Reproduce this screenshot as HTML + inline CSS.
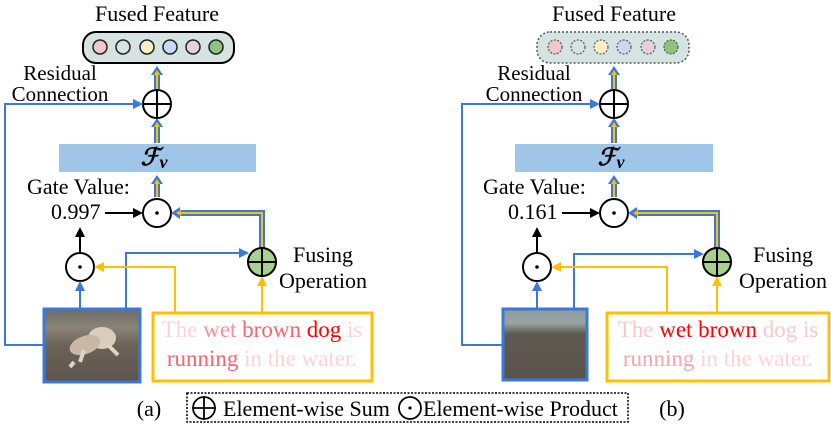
<!DOCTYPE html>
<html><head><meta charset="utf-8"><style>
html,body{margin:0;padding:0;background:#fff;width:831px;height:424px;overflow:hidden}
text{font-family:"Liberation Serif",serif}
</style></head><body>
<svg width="831" height="424" viewBox="0 0 831 424" xmlns="http://www.w3.org/2000/svg" font-family="Liberation Serif, serif">
<defs>
<linearGradient id="sand" x1="0" y1="0" x2="0" y2="1">
<stop offset="0" stop-color="#6d6a62"/><stop offset="0.25" stop-color="#8a8478"/><stop offset="0.5" stop-color="#6b6258"/><stop offset="1" stop-color="#5e564d"/>
</linearGradient>
<linearGradient id="sand2" x1="0" y1="0" x2="0" y2="1">
<stop offset="0" stop-color="#8c9a9c"/><stop offset="0.2" stop-color="#9aa3a2"/><stop offset="0.35" stop-color="#5e5a52"/><stop offset="1" stop-color="#5a544b"/>
</linearGradient>
</defs>

<!-- ========== PANEL A ========== -->
<g>
<text x="157" y="21" font-size="22" text-anchor="middle">Fused Feature</text>
<rect x="83" y="32" width="151" height="31" rx="13" fill="#d5e3e3" stroke="#000" stroke-width="2"/>
<g stroke="#222" stroke-width="1.5">
<circle cx="100" cy="47" r="7" fill="#f0c8c8"/>
<circle cx="123" cy="47" r="7" fill="#d5e3e3"/>
<circle cx="147" cy="47" r="7" fill="#fcefc8"/>
<circle cx="170" cy="47" r="7" fill="#c9d9f5"/>
<circle cx="193" cy="47" r="7" fill="#e8cfdd"/>
<circle cx="216" cy="47" r="7" fill="#8fc27f"/>
</g>
<line x1="157" y1="89" x2="157" y2="74" stroke="#3c78d8" stroke-width="6"/>
<polygon points="151,75 163,75 157,66" fill="#3c78d8"/>
<line x1="157" y1="89" x2="157" y2="75" stroke="#ffc000" stroke-width="2"/>
<polygon points="154,75 160,75 157,70" fill="#ffc000"/>
<line x1="157" y1="143" x2="157" y2="126" stroke="#3c78d8" stroke-width="6"/>
<polygon points="151,127 163,127 157,118" fill="#3c78d8"/>
<line x1="157" y1="143" x2="157" y2="127" stroke="#ffc000" stroke-width="2"/>
<polygon points="154,127 160,127 157,122" fill="#ffc000"/>
<line x1="157" y1="197" x2="157" y2="183" stroke="#3c78d8" stroke-width="6"/>
<polygon points="151,184 163,184 157,175" fill="#3c78d8"/>
<line x1="157" y1="197" x2="157" y2="184" stroke="#ffc000" stroke-width="2"/>
<polygon points="154,184 160,184 157,179" fill="#ffc000"/>
<circle cx="157" cy="104" r="14" fill="#fff" stroke="#000" stroke-width="2"/>
<line x1="143" y1="104" x2="171" y2="104" stroke="#000" stroke-width="2"/>
<line x1="157" y1="90" x2="157" y2="118" stroke="#000" stroke-width="2"/>
<text x="60" y="80" font-size="21" text-anchor="middle">Residual</text>
<text x="60" y="101" font-size="21" text-anchor="middle">Connection</text>
<polyline points="43,345 5,345 5,104 134,104" fill="none" stroke="#3c78d8" stroke-width="2"/>
<polygon points="133,99 143,104 133,109" fill="#3c78d8"/>
<rect x="59" y="144" width="197" height="28" fill="#9fc5e8"/>
<text x="154" y="165" font-size="24" font-weight="bold" font-style="italic" text-anchor="middle">ℱ<tspan font-size="18" dy="3">v</tspan></text>
<text x="27" y="194" font-size="22">Gate Value:</text>
<text x="51" y="219" font-size="22">0.997</text>
<line x1="105" y1="213" x2="134" y2="213" stroke="#000" stroke-width="2"/>
<polygon points="133,208 143,213 133,218" fill="#000"/>
<circle cx="157" cy="213" r="14" fill="#fff" stroke="#000" stroke-width="2"/>
<circle cx="157" cy="213" r="1.8" fill="#000"/>
<polyline points="262,248 262,213 178,213" fill="none" stroke="#3c78d8" stroke-width="6"/>
<polygon points="180,207 180,219 171,213" fill="#3c78d8"/>
<polyline points="262,248 262,213 180,213" fill="none" stroke="#ffc000" stroke-width="2"/>
<polygon points="181,210 181,216 176,213" fill="#ffc000"/>
<line x1="80" y1="253" x2="80" y2="236" stroke="#000" stroke-width="2"/>
<polygon points="75,237 85,237 80,227" fill="#000"/>
<circle cx="80" cy="267" r="14" fill="#fff" stroke="#000" stroke-width="2"/>
<circle cx="80" cy="267" r="1.8" fill="#000"/>
<line x1="80" y1="308" x2="80" y2="290" stroke="#3c78d8" stroke-width="2"/>
<polygon points="75,291 85,291 80,281" fill="#3c78d8"/>
<polyline points="126,308 126,253 240,253" fill="none" stroke="#3c78d8" stroke-width="2"/>
<polygon points="239,248 249,253 239,258" fill="#3c78d8"/>
<polyline points="175,313 175,267 103,267" fill="none" stroke="#ffc000" stroke-width="2"/>
<polygon points="104,262 94,267 104,272" fill="#ffc000"/>
<line x1="262" y1="313" x2="262" y2="285" stroke="#ffc000" stroke-width="2"/>
<polygon points="257,286 267,286 262,276" fill="#ffc000"/>
<circle cx="262" cy="262" r="14" fill="#a9d08e" stroke="#000" stroke-width="2"/>
<line x1="248" y1="262" x2="276" y2="262" stroke="#000" stroke-width="2"/>
<line x1="262" y1="248" x2="262" y2="276" stroke="#000" stroke-width="2"/>
<text x="323" y="262" font-size="22" text-anchor="middle">Fusing</text>
<text x="323" y="288" font-size="22" text-anchor="middle">Operation</text>
<rect x="44" y="309" width="96" height="73" fill="url(#sand)"/>
<ellipse cx="102" cy="338" rx="14" ry="11" fill="#d9cdbf"/>
<ellipse cx="85" cy="345" rx="16" ry="9" fill="#c9b8a5" transform="rotate(-20 85 345)"/>
<path d="M74 362 L70 367 M84 350 L80 362 M108 345 L118 355" stroke="#e0d4c4" stroke-width="4"/>
<rect x="44" y="309" width="96" height="73" fill="none" stroke="#3c78d8" stroke-width="3"/>
<rect x="153" y="313" width="219" height="68" fill="#fff" stroke="#ffc000" stroke-width="3"/>
<text x="262" y="337" font-size="23" text-anchor="middle"><tspan fill="#fcd3d6">The </tspan><tspan fill="#f7919a">wet </tspan><tspan fill="#f4646f">brown </tspan><tspan fill="#ff0000">dog </tspan><tspan fill="#fcd3d6">is</tspan></text>
<text x="262" y="366" font-size="23" text-anchor="middle"><tspan fill="#f4646f">running </tspan><tspan fill="#fcd3d6">in the water.</tspan></text>
</g>

<!-- ========== PANEL B ========== -->
<g transform="translate(457,0)">
<text x="157" y="21" font-size="22" text-anchor="middle">Fused Feature</text>
<rect x="80" y="32" width="152" height="31" rx="13" fill="#d5e3e3" stroke="#555" stroke-width="1.5" stroke-dasharray="2,2"/>
<g stroke="#555" stroke-width="1.2" stroke-dasharray="2,1.5">
<circle cx="98" cy="47" r="7" fill="#f0c8c8"/>
<circle cx="121" cy="47" r="7" fill="#d5e3e3"/>
<circle cx="144" cy="47" r="7" fill="#fcefc8"/>
<circle cx="167" cy="47" r="7" fill="#c9d9f5"/>
<circle cx="191" cy="47" r="7" fill="#e8cfdd"/>
<circle cx="214" cy="47" r="7" fill="#8fc27f"/>
</g>
<line x1="157" y1="89" x2="157" y2="74" stroke="#3c78d8" stroke-width="6"/>
<polygon points="151,75 163,75 157,66" fill="#3c78d8"/>
<line x1="157" y1="89" x2="157" y2="75" stroke="#ffc000" stroke-width="2"/>
<polygon points="154,75 160,75 157,70" fill="#ffc000"/>
<line x1="157" y1="143" x2="157" y2="126" stroke="#3c78d8" stroke-width="6"/>
<polygon points="151,127 163,127 157,118" fill="#3c78d8"/>
<line x1="157" y1="143" x2="157" y2="127" stroke="#ffc000" stroke-width="2"/>
<polygon points="154,127 160,127 157,122" fill="#ffc000"/>
<line x1="157" y1="197" x2="157" y2="183" stroke="#3c78d8" stroke-width="6"/>
<polygon points="151,184 163,184 157,175" fill="#3c78d8"/>
<line x1="157" y1="197" x2="157" y2="184" stroke="#ffc000" stroke-width="2"/>
<polygon points="154,184 160,184 157,179" fill="#ffc000"/>
<circle cx="157" cy="104" r="14" fill="#fff" stroke="#000" stroke-width="2"/>
<line x1="143" y1="104" x2="171" y2="104" stroke="#000" stroke-width="2"/>
<line x1="157" y1="90" x2="157" y2="118" stroke="#000" stroke-width="2"/>
<text x="77" y="80" font-size="21" text-anchor="middle">Residual</text>
<text x="77" y="101" font-size="21" text-anchor="middle">Connection</text>
<polyline points="45,345 5,345 5,104 134,104" fill="none" stroke="#3c78d8" stroke-width="2"/>
<polygon points="133,99 143,104 133,109" fill="#3c78d8"/>
<rect x="58" y="144" width="198" height="28" fill="#9fc5e8"/>
<text x="154" y="165" font-size="24" font-weight="bold" font-style="italic" text-anchor="middle">ℱ<tspan font-size="18" dy="3">v</tspan></text>
<text x="26" y="194" font-size="22">Gate Value:</text>
<text x="51" y="219" font-size="22">0.161</text>
<line x1="105" y1="213" x2="134" y2="213" stroke="#000" stroke-width="2"/>
<polygon points="133,208 143,213 133,218" fill="#000"/>
<circle cx="157" cy="213" r="14" fill="#fff" stroke="#000" stroke-width="2"/>
<circle cx="157" cy="213" r="1.8" fill="#000"/>
<polyline points="260,248 260,213 178,213" fill="none" stroke="#3c78d8" stroke-width="6"/>
<polygon points="180,207 180,219 171,213" fill="#3c78d8"/>
<polyline points="260,248 260,213 180,213" fill="none" stroke="#ffc000" stroke-width="2"/>
<polygon points="181,210 181,216 176,213" fill="#ffc000"/>
<line x1="80" y1="253" x2="80" y2="236" stroke="#000" stroke-width="2"/>
<polygon points="75,237 85,237 80,227" fill="#000"/>
<circle cx="80" cy="267" r="14" fill="#fff" stroke="#000" stroke-width="2"/>
<circle cx="80" cy="267" r="1.8" fill="#000"/>
<line x1="80" y1="308" x2="80" y2="290" stroke="#3c78d8" stroke-width="2"/>
<polygon points="75,291 85,291 80,281" fill="#3c78d8"/>
<polyline points="117,308 117,254 238,254" fill="none" stroke="#3c78d8" stroke-width="2"/>
<polygon points="237,249 247,254 237,259" fill="#3c78d8"/>
<polyline points="210,313 210,267 103,267" fill="none" stroke="#ffc000" stroke-width="2"/>
<polygon points="104,262 94,267 104,272" fill="#ffc000"/>
<line x1="260" y1="313" x2="260" y2="285" stroke="#ffc000" stroke-width="2"/>
<polygon points="255,286 265,286 260,276" fill="#ffc000"/>
<circle cx="260" cy="262" r="14" fill="#a9d08e" stroke="#000" stroke-width="2"/>
<line x1="246" y1="262" x2="274" y2="262" stroke="#000" stroke-width="2"/>
<line x1="260" y1="248" x2="260" y2="276" stroke="#000" stroke-width="2"/>
<text x="326" y="262" font-size="22" text-anchor="middle">Fusing</text>
<text x="326" y="288" font-size="22" text-anchor="middle">Operation</text>
<rect x="46" y="309" width="84" height="71" fill="url(#sand2)"/>
<rect x="46" y="309" width="84" height="71" fill="none" stroke="#3c78d8" stroke-width="3"/>
<rect x="150" y="313" width="222" height="68" fill="#fff" stroke="#ffc000" stroke-width="3"/>
<text x="261" y="337" font-size="23" text-anchor="middle"><tspan fill="#fcc7cc">The </tspan><tspan fill="#ff0000">wet brown </tspan><tspan fill="#fcc7cc">dog is</tspan></text>
<text x="261" y="366" font-size="23" text-anchor="middle"><tspan fill="#f8a5ae">running </tspan><tspan fill="#fcd3d6">in the water.</tspan></text>
</g>

<!-- legend -->
<text x="149" y="416" font-size="22" text-anchor="middle">(a)</text>
<text x="672" y="416" font-size="22" text-anchor="middle">(b)</text>
<rect x="187" y="393" width="441" height="29" fill="none" stroke="#000" stroke-width="1.5" stroke-dasharray="2,1.5"/>
<circle cx="204" cy="408" r="11" fill="none" stroke="#000" stroke-width="1.8"/>
<line x1="193" y1="408" x2="215" y2="408" stroke="#000" stroke-width="1.8"/>
<line x1="204" y1="397" x2="204" y2="419" stroke="#000" stroke-width="1.8"/>
<text x="223" y="416" font-size="22">Element-wise Sum</text>
<circle cx="410" cy="408" r="11" fill="none" stroke="#000" stroke-width="1.8"/>
<circle cx="410" cy="408" r="1.6" fill="#000"/>
<text x="423" y="416" font-size="22">Element-wise Product</text>
</svg>
</body></html>
